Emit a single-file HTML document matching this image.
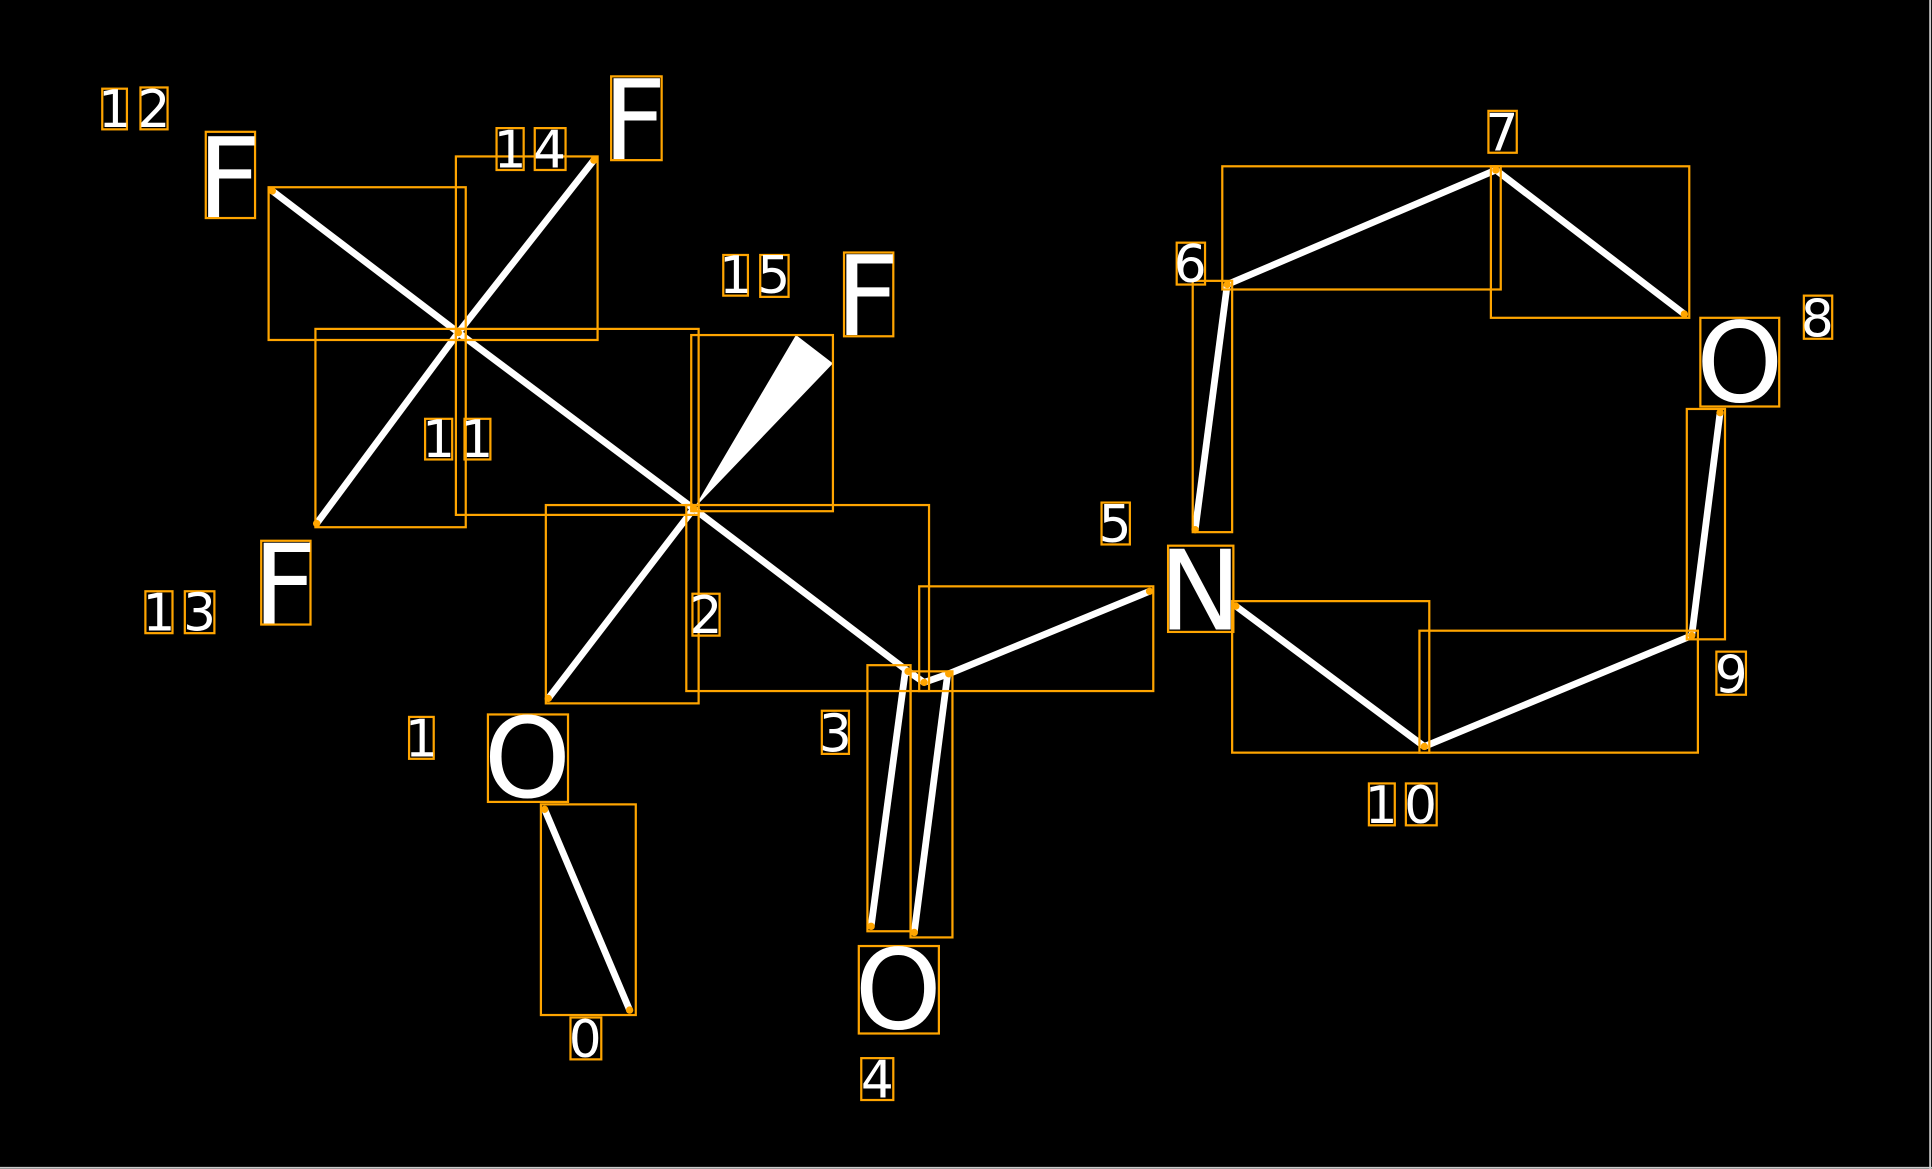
<!DOCTYPE html>
<html><head><meta charset="utf-8"><style>html,body{margin:0;padding:0;background:#000;overflow:hidden}svg{display:block}</style></head><body>
<svg width="1932" height="1169" viewBox="0 0 1568 949" preserveAspectRatio="none" xmlns="http://www.w3.org/2000/svg">
<rect width="1568" height="949" fill="#000"/>
<line x1="1566.5" y1="0" x2="1566.5" y2="949" stroke="#ccc" stroke-width="1.5"/>
<line x1="0" y1="948" x2="1568" y2="948" stroke="#ccc" stroke-width="1.5"/>
<g stroke="#fff" stroke-width="5.5" stroke-linecap="butt" fill="none">
<line x1="221" y1="155" x2="372" y2="270"/>
<line x1="372" y1="270" x2="482" y2="130"/>
<line x1="372" y1="270" x2="257" y2="425"/>
<line x1="372" y1="270" x2="563" y2="413"/>
<line x1="563" y1="413" x2="445" y2="567"/>
<line x1="563" y1="413" x2="737" y2="545"/>
<line x1="737" y1="545" x2="750" y2="554"/>
<line x1="750" y1="554" x2="770" y2="547"/>
<line x1="735" y1="543" x2="707" y2="752"/>
<line x1="769" y1="548" x2="742" y2="757"/>
<line x1="770" y1="547" x2="933" y2="480"/>
<line x1="442" y1="657" x2="511" y2="820"/>
<line x1="1003" y1="492" x2="1156" y2="606"/>
<line x1="1156" y1="606" x2="1373" y2="516"/>
<line x1="1373" y1="516" x2="1396" y2="335"/>
<line x1="996" y1="231" x2="970" y2="430"/>
<line x1="996" y1="231" x2="1214" y2="138"/>
<line x1="1214" y1="138" x2="1367" y2="255"/>
</g>
<polygon points="563,413 646,272 676,295" fill="#fff"/>
<g stroke="#FFA500" stroke-width="1.8" fill="none">
<rect x="218" y="152" width="160" height="124"/>
<rect x="370" y="127" width="115" height="149"/>
<rect x="256" y="267" width="122" height="161"/>
<rect x="370" y="267" width="197" height="151"/>
<rect x="561" y="272" width="115" height="143"/>
<rect x="443" y="410" width="124" height="161"/>
<rect x="557" y="410" width="197" height="151"/>
<rect x="704" y="540" width="35" height="216"/>
<rect x="739" y="545" width="34" height="216"/>
<rect x="746" y="476" width="190" height="85"/>
<rect x="439" y="653" width="77" height="171"/>
<rect x="1000" y="488" width="160" height="123"/>
<rect x="1152" y="512" width="226" height="99"/>
<rect x="1369" y="332" width="31" height="187"/>
<rect x="968" y="228" width="32" height="204"/>
<rect x="992" y="135" width="226" height="100"/>
<rect x="1210" y="135" width="161" height="123"/>
<rect x="83" y="72" width="20" height="33"/><rect x="114" y="71" width="22" height="34"/>
<rect x="167" y="107" width="40" height="70"/>
<rect x="403" y="104" width="22" height="34"/><rect x="434" y="104" width="25" height="34"/>
<rect x="496" y="62" width="41" height="68"/>
<rect x="587" y="207" width="20" height="33"/><rect x="617" y="207" width="23" height="34"/>
<rect x="685" y="205" width="40" height="68"/>
<rect x="345" y="340" width="22" height="33"/><rect x="377" y="340" width="21" height="33"/>
<rect x="212" y="439" width="40" height="68"/>
<rect x="118" y="480" width="22" height="34"/><rect x="150" y="480" width="24" height="34"/>
<rect x="562" y="482" width="22" height="34"/>
<rect x="332" y="582" width="20" height="34"/>
<rect x="396" y="580" width="65" height="71"/>
<rect x="463" y="826" width="25" height="34"/>
<rect x="667" y="577" width="22" height="35"/>
<rect x="697" y="768" width="65" height="71"/>
<rect x="699" y="859" width="26" height="34"/>
<rect x="894" y="408" width="23" height="34"/>
<rect x="948" y="443" width="53" height="70"/>
<rect x="955" y="197" width="23" height="34"/>
<rect x="1208" y="90" width="23" height="34"/>
<rect x="1464" y="240" width="23" height="35"/>
<rect x="1380" y="258" width="64" height="72"/>
<rect x="1393" y="529" width="24" height="35"/>
<rect x="1111" y="636" width="21" height="34"/><rect x="1141" y="636" width="25" height="34"/>
</g>
<g fill="#FFA500">
<circle cx="221" cy="155" r="3"/><circle cx="482" cy="130" r="3"/><circle cx="257" cy="425" r="3"/><circle cx="372" cy="270" r="3"/><circle cx="563" cy="413" r="3"/><circle cx="445" cy="567" r="3"/><circle cx="737" cy="545" r="3"/><circle cx="750" cy="554" r="3"/><circle cx="770" cy="547" r="3"/><circle cx="707" cy="752" r="3"/><circle cx="742" cy="757" r="3"/><circle cx="933" cy="480" r="3"/><circle cx="442" cy="657" r="3"/><circle cx="511" cy="820" r="3"/><circle cx="1003" cy="492" r="3"/><circle cx="1156" cy="606" r="3"/><circle cx="1373" cy="516" r="3"/><circle cx="1396" cy="335" r="3"/><circle cx="996" cy="231" r="3"/><circle cx="970" cy="430" r="3"/><circle cx="1214" cy="138" r="3"/><circle cx="1367" cy="255" r="3"/>
</g>
<g fill="#fff" font-family="DejaVu Sans, sans-serif" text-anchor="middle">
<g font-size="90">
<text x="186" y="176">F</text>
<text x="515" y="129">F</text>
<text x="704" y="272">F</text>
<text x="231" y="506">F</text>
<text x="428" y="647">O</text>
<text x="729" y="835">O</text>
<text x="974" y="511">N</text>
<text x="1412" y="326">O</text>
</g>
<g font-size="42">
<text x="93" y="103">1</text><text x="125" y="103">2</text>
<text x="414" y="136">1</text><text x="446" y="136">4</text>
<text x="597" y="238">1</text><text x="628" y="238">5</text>
<text x="356" y="371">1</text><text x="387" y="371">1</text>
<text x="129" y="512">1</text><text x="162" y="512">3</text>
<text x="573" y="514">2</text>
<text x="342" y="614">1</text>
<text x="475" y="858">0</text>
<text x="678" y="610">3</text>
<text x="712" y="891">4</text>
<text x="905" y="440">5</text>
<text x="966" y="229">6</text>
<text x="1219" y="122">7</text>
<text x="1475" y="273">8</text>
<text x="1405" y="562">9</text>
<text x="1121" y="668">1</text><text x="1153" y="668">0</text>
</g>
</g>
</svg>
</body></html>
